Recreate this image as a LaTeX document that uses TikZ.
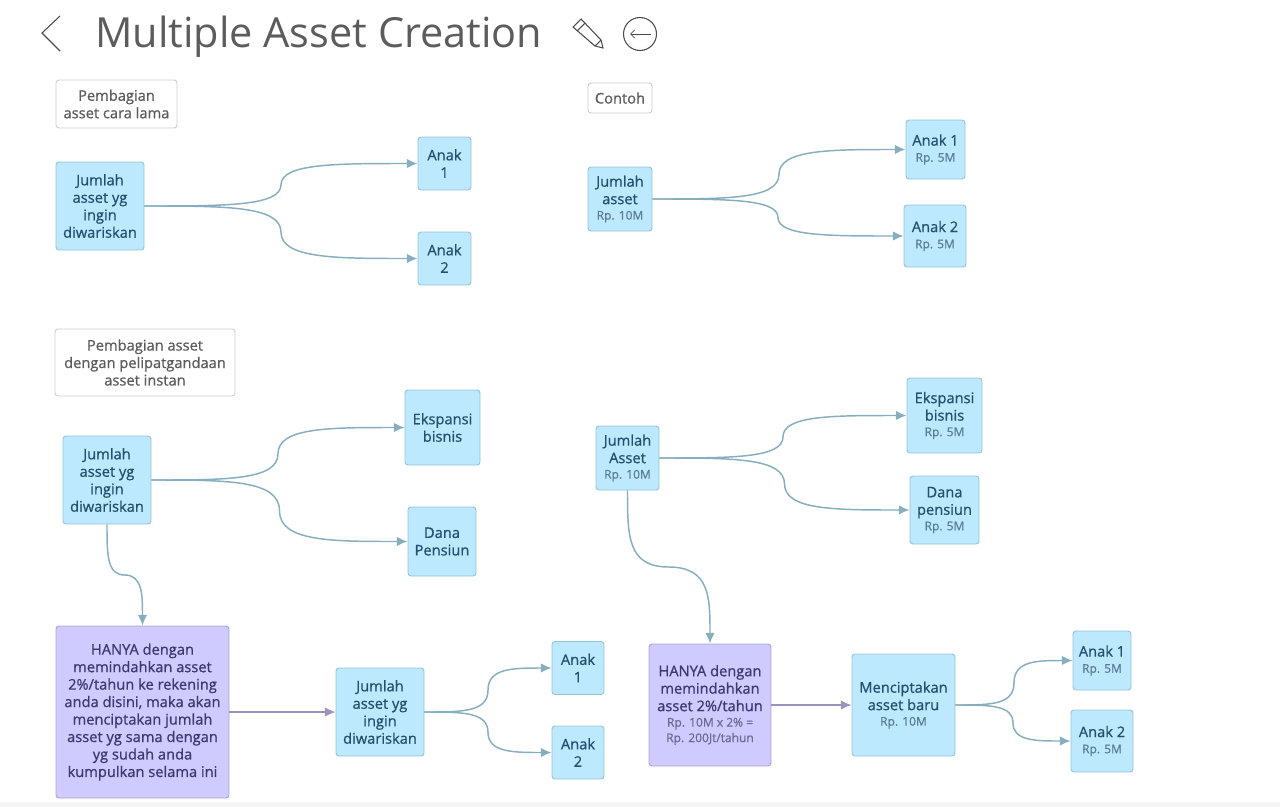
\documentclass[tikz,border=0pt]{standalone}
\usepackage{fontspec}
\setmainfont{Open Sans}
\newfontfamily\boxfont{Open Sans}[FakeBold=0.8]
\usetikzlibrary{arrows.meta,calc}

\definecolor{boxblue}{HTML}{BDE9FF}
\definecolor{edgeblue}{HTML}{93C4D8}
\definecolor{textblue}{HTML}{24506E}
\definecolor{boxpurple}{HTML}{CFCBFF}
\definecolor{edgepurple}{HTML}{A9A4D6}
\definecolor{textpurple}{HTML}{3A3A6E}
\definecolor{linkblue}{HTML}{86AEBF}
\definecolor{linkpurple}{HTML}{9A93BD}
\definecolor{headgray}{HTML}{5C5C5C}

\tikzset{
  bluebox/.style={draw=edgeblue, fill=boxblue, text=textblue, rounded corners=2.2pt, line width=0.7pt,
    inner sep=0pt, align=center, font=\boxfont\fontsize{11}{13.1}\selectfont,
    execute at begin node=\vspace*{2pt}},
  purplebox/.style={bluebox, draw=edgepurple, fill=boxpurple, text=textpurple},
  headbox/.style={bluebox, draw=black!20, fill=white, text=headgray},
  link/.style={draw=linkblue, line width=1.1pt, -{Latex[length=8pt,width=7pt]}},
  purplelink/.style={link, draw=linkpurple},
  icon/.style={draw=black!70, line width=0.8pt}
}

\newcommand{\subtxt}[1]{{\fontsize{9}{11.2}\selectfont\color{.!75!white}#1}}

% fork from one box to a box on its right
\newcommand{\branch}[2]{
  \coordinate (m) at ($(#1.east)!.5!(#2.west)$);
  \draw[link] (#1.east) .. controls ($(#1.east)!.6!(m|-#1.east)$) and (m|-#1.east) .. (m)
    .. controls (m|-#2.west) and ($(#2.west)!.6!(m|-#2.west)$) .. (#2.west);
}
% same thing, from a box down to the box under it
\newcommand{\dropline}[2]{
  \coordinate (m) at ($(#1.south)!.5!(#2.north)$);
  \draw[link] (#1.south) .. controls ($(#1.south)!.6!(#1.south|-m)$) and (#1.south|-m) .. (m)
    .. controls (#2.north|-m) and ($(#2.north)!.6!(#2.north|-m)$) .. (#2.north);
}

\begin{document}
\begin{tikzpicture}[x=0.75pt, y=-0.75pt]
  \useasboundingbox (0,0) rectangle (1280,807);
  \fill[black!4] (0,802) rectangle (1280,807); % strip along the bottom

  % Title row
  \node[text=headgray, inner sep=0pt, anchor=west, font=\fontsize{31.1}{36}\selectfont] (title) at (95,37) {Multiple Asset Creation};
  \draw[icon] (60,16) -- (42,33) -- (60,51);
  \draw[icon] (573,27) -- (581,19) -- (601,40) -- (603,48) -- (595,46) -- cycle;
  \draw[icon] (577,31) -- (585,23) (595,46) -- (601,40);
  \draw[icon] (640,34) circle (16.5);
  \draw[icon, line width=0.6pt, -{Straight Barb[length=3pt,width=6pt]}] (651,34) -- (630,34);

  % Old way
  \node[headbox, minimum width=90.75pt, minimum height=36pt] (headOld) at (116.5,104) {Pembagian\\asset cara lama};
  \node[bluebox, minimum width=66pt, minimum height=66pt] (totalOld) at (100,206) {Jumlah\\asset yg\\ingin\\diwariskan};
  \node[bluebox, minimum width=39.75pt, minimum height=39.75pt] (childOldA) at (444.5,163.5) {Anak\\1};
  \node[bluebox, minimum width=39.75pt, minimum height=39.75pt] (childOldB) at (444.5,258.5) {Anak\\2};
  \branch{totalOld}{childOldA}
  \branch{totalOld}{childOldB}

  % Old way, example
  \node[headbox, minimum width=48pt, minimum height=22.5pt] (headEx) at (620,98) {Contoh};
  \node[bluebox, minimum width=48pt, minimum height=48pt] (totalEx) at (620,199) {Jumlah\\asset\\[-1.5pt]\subtxt{Rp. 10M}};
  \node[bluebox, minimum width=44.25pt, minimum height=44.25pt] (childExA) at (935.5,149.5) {Anak 1\\[-1pt]\subtxt{Rp. 5M}};
  \node[bluebox, minimum width=46.5pt, minimum height=46.5pt] (childExB) at (935,236) {Anak 2\\[-1pt]\subtxt{Rp. 5M}};
  \branch{totalEx}{childExA}
  \branch{totalEx}{childExB}

  % New way
  \node[headbox, minimum width=135pt, minimum height=50.25pt] (headNew) at (145,362.5) {Pembagian asset\\dengan pelipatgandaan\\asset instan};
  \node[bluebox, minimum width=66pt, minimum height=66pt] (totalNew) at (107,480) {Jumlah\\asset yg\\ingin\\diwariskan};
  \node[bluebox, minimum width=56.25pt, minimum height=56.25pt] (bisnisNew) at (442.5,427.5) {Ekspansi\\bisnis};
  \node[bluebox, minimum width=51pt, minimum height=51.75pt] (danaNew) at (442,541.5) {Dana\\Pensiun};
  \branch{totalNew}{bisnisNew}
  \branch{totalNew}{danaNew}

  \node[purplebox, minimum width=129.75pt, minimum height=129pt] (moveNew) at (142.5,712) {HANYA dengan\\memindahkan asset\\2\%/tahun ke rekening\\anda disini, maka akan\\menciptakan jumlah\\asset yg sama dengan\\yg sudah anda\\kumpulkan selama ini};
  \node[bluebox, minimum width=66pt, minimum height=66pt] (totalAgain) at (380,712) {Jumlah\\asset yg\\ingin\\diwariskan};
  \node[bluebox, minimum width=39pt, minimum height=39.75pt] (childNewA) at (578,668) {Anak\\1};
  \node[bluebox, minimum width=39pt, minimum height=39.75pt] (childNewB) at (578,752.5) {Anak\\2};
  \dropline{totalNew}{moveNew}
  \draw[purplelink] (moveNew) -- (totalAgain);
  \branch{totalAgain}{childNewA}
  \branch{totalAgain}{childNewB}

  % New way, example
  \node[bluebox, minimum width=47.25pt, minimum height=48pt] (totalAsset) at (627.5,458) {Jumlah\\Asset\\[-1.5pt]\subtxt{Rp. 10M}};
  \node[bluebox, minimum width=56.25pt, minimum height=56.25pt] (bisnisEx) at (944.5,415.5) {Ekspansi\\bisnis\\[-1.5pt]\subtxt{Rp. 5M}};
  \node[bluebox, minimum width=51.75pt, minimum height=51pt] (danaEx) at (944.5,510) {Dana\\pensiun\\[-1.5pt]\subtxt{Rp. 5M}};
  \branch{totalAsset}{bisnisEx}
  \branch{totalAsset}{danaEx}

  \node[purplebox, minimum width=91.5pt, minimum height=91.5pt] (moveEx) at (710,705) {HANYA dengan\\memindahkan\\asset 2\%/tahun\\[-1.5pt]\subtxt{Rp. 10M x 2\% =}\\[-1.5pt]\subtxt{Rp. 200Jt/tahun}};
  \node[bluebox, minimum width=77.25pt, minimum height=76.5pt] (newAsset) at (903.5,705) {Menciptakan\\asset baru\\[-1.5pt]\subtxt{Rp. 10M}};
  \node[bluebox, minimum width=43.5pt, minimum height=44.25pt] (childNewExA) at (1102,660.5) {Anak 1\\[-1pt]\subtxt{Rp. 5M}};
  \node[bluebox, minimum width=46.5pt, minimum height=46.5pt] (childNewExB) at (1102,741) {Anak 2\\[-1pt]\subtxt{Rp. 5M}};
  \dropline{totalAsset}{moveEx}
  \draw[purplelink] (moveEx) -- (newAsset);
  \branch{newAsset}{childNewExA}
  \branch{newAsset}{childNewExB}
\end{tikzpicture}
\end{document}
